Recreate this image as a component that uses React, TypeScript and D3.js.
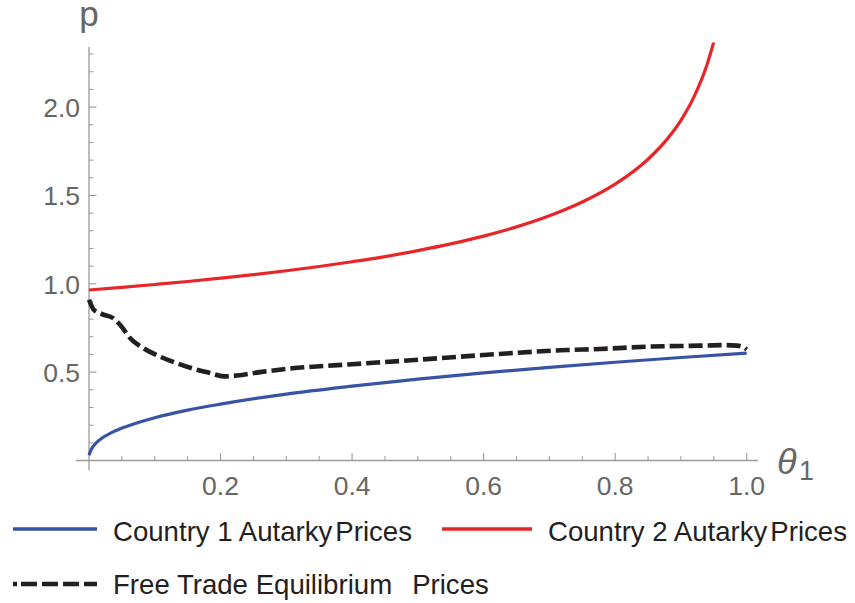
import React from "react";
import * as d3 from "d3";

// Country 1 autarky prices (blue)
const blueTheta = [0, 0.002, 0.005, 0.01, 0.02, 0.04, 0.06, 0.08, 0.1, 0.15, 0.2, 0.3, 0.4, 0.5, 0.6, 0.7, 0.8, 0.9, 1.0];
const blueP = [0.03, 0.05, 0.073, 0.096, 0.127, 0.168, 0.197, 0.221, 0.242, 0.285, 0.319, 0.376, 0.421, 0.461, 0.496, 0.527, 0.556, 0.583, 0.608];

// Country 2 autarky prices (red)
const redTheta = [0, 0.05, 0.1, 0.15, 0.2, 0.25, 0.3, 0.35, 0.4, 0.45, 0.5, 0.55, 0.6, 0.65, 0.7, 0.75, 0.8, 0.85, 0.88, 0.9, 0.92, 0.94, 0.95];
const redP = [0.965, 0.98, 0.996, 1.013, 1.032, 1.052, 1.074, 1.098, 1.125, 1.154, 1.188, 1.226, 1.27, 1.322, 1.385, 1.463, 1.564, 1.705, 1.823, 1.925, 2.059, 2.244, 2.37];

// Free trade equilibrium prices (dashed)
const ftTheta = [0, 0.007, 0.019, 0.037, 0.049, 0.062, 0.083, 0.108, 0.133, 0.159, 0.184, 0.205, 0.22, 0.26, 0.3, 0.4, 0.473, 0.6, 0.726, 0.777, 0.848, 0.929, 0.965, 0.985, 0.994, 1.0];
const ftP = [0.91, 0.855, 0.83, 0.805, 0.76, 0.695, 0.635, 0.588, 0.551, 0.519, 0.495, 0.476, 0.479, 0.5, 0.518, 0.545, 0.563, 0.597, 0.625, 0.631, 0.644, 0.65, 0.653, 0.65, 0.643, 0.628];

const xMajorTicks = [0.2, 0.4, 0.6, 0.8, 1.0];
const xTickLabels = ["0.2", "0.4", "0.6", "0.8", "1.0"];
const yMajorTicks = [0.5, 1.0, 1.5, 2.0];
const yTickLabels = ["0.5", "1.0", "1.5", "2.0"];

const legendLabels = ["Country 1 Autarky", "Country 2 Autarky", "Free Trade Equilibrium"];

const BLUE = "#3953a4";
const RED = "#e8262a";
const BLACK = "#231f20";
const AXIS = "#9a9a9a";
const TICKTXT = "#666666";
const FONT = "'Liberation Sans', Arial, Helvetica, sans-serif";

export default function App() {
  const x = d3.scaleLinear().domain([0, 1]).range([89, 746.7]);
  const y = d3.scaleLinear().domain([0, 1]).range([460.5, 283.8]);

  const line = d3
    .line<[number, number]>()
    .x((d) => x(d[0]))
    .y((d) => y(d[1]))
    .curve(d3.curveMonotoneX);

  const bluePts = blueTheta.map((t, i) => [t, blueP[i]] as [number, number]);
  const redPts = redTheta.map((t, i) => [t, redP[i]] as [number, number]);
  const ftPts = ftTheta.map((t, i) => [t, ftP[i]] as [number, number]);

  const xMinor = x.ticks(20).filter((t) => t > 0.001 && !xMajorTicks.some((m) => Math.abs(m - t) < 1e-6));
  const yMinor = d3
    .scaleLinear()
    .domain([0, 2.34])
    .ticks(25)
    .filter((t) => t > 0.001 && !yMajorTicks.some((m) => Math.abs(m - t) < 1e-6));

  const y0 = y(0);
  const x0 = x(0);

  return (
    <svg
      width={855}
      height={603}
      style={{ position: "absolute", left: 0, top: 0, background: "#fff" }}
      fontFamily={FONT}
    >
      <defs>
        <clipPath id="plotclip">
          <rect x={60} y={y(2.365)} width={760} height={460} />
        </clipPath>
      </defs>

      {/* axes */}
      <line x1={x(-0.02)} x2={x(1.017)} y1={y0} y2={y0} stroke={AXIS} strokeWidth={1.3} />
      <line x1={x0} x2={x0} y1={y(-0.055)} y2={y(2.34)} stroke={AXIS} strokeWidth={1.3} />

      {/* x ticks */}
      {xMajorTicks.map((t) => (
        <line key={"xm" + t} x1={x(t)} x2={x(t)} y1={y0} y2={y0 - 7.5} stroke={AXIS} strokeWidth={1.1} />
      ))}
      {xMinor.map((t) => (
        <line key={"xn" + t} x1={x(t)} x2={x(t)} y1={y0} y2={y0 - 4.5} stroke={AXIS} strokeWidth={1} />
      ))}
      {xMajorTicks.map((t, i) => (
        <text key={"xl" + t} x={x(t)} y={495} textAnchor="middle" fontSize={26.5} fill={TICKTXT}>
          {xTickLabels[i]}
        </text>
      ))}

      {/* y ticks */}
      {yMajorTicks.map((t) => (
        <line key={"ym" + t} x1={x0} x2={x0 + 7.5} y1={y(t)} y2={y(t)} stroke={AXIS} strokeWidth={1.1} />
      ))}
      {yMinor.map((t) => (
        <line key={"yn" + t} x1={x0} x2={x0 + 4.5} y1={y(t)} y2={y(t)} stroke={AXIS} strokeWidth={1} />
      ))}
      {yMajorTicks.map((t, i) => (
        <text key={"yl" + t} x={80} y={y(t) + 10} textAnchor="end" fontSize={26.5} fill={TICKTXT}>
          {yTickLabels[i]}
        </text>
      ))}

      {/* axis labels */}
      <text x={89} y={26} textAnchor="middle" fontSize={35} fill={TICKTXT}>
        p
      </text>
      <text x={777} y={474} fontSize={36} fontStyle="italic" fill={TICKTXT}>
        θ
      </text>
      <text x={799} y={480} fontSize={27} fill={TICKTXT}>
        1
      </text>

      {/* curves */}
      <g clipPath="url(#plotclip)">
        <path d={line(redPts) || ""} fill="none" stroke={RED} strokeWidth={3.2} />
        <path d={line(bluePts) || ""} fill="none" stroke={BLUE} strokeWidth={3.2} />
        <path
          d={line(ftPts) || ""}
          fill="none"
          stroke={BLACK}
          strokeWidth={4.6}
          strokeDasharray="14,5"
        />
      </g>

      {/* legend */}
      <line x1={13} x2={97} y1={529} y2={529} stroke={BLUE} strokeWidth={3.6} />
      <text x={113} y={541} fontSize={27.6} fill={BLACK}>
        {legendLabels[0]}
        <tspan dx={3}>Prices</tspan>
      </text>
      <line x1={442} x2={532} y1={529} y2={529} stroke={RED} strokeWidth={3.6} />
      <text x={548} y={541} fontSize={27.6} fill={BLACK}>
        {legendLabels[1]}
        <tspan dx={3}>Prices</tspan>
      </text>
      <line x1={13} x2={97} y1={584} y2={584} stroke={BLACK} strokeWidth={4.6} strokeDasharray="4,4,16,5,16,5,16,5,16,5" />
      <text x={113} y={594} fontSize={27.6} fill={BLACK}>
        {legendLabels[2]}
        <tspan dx={20}>Prices</tspan>
      </text>
    </svg>
  );
}
